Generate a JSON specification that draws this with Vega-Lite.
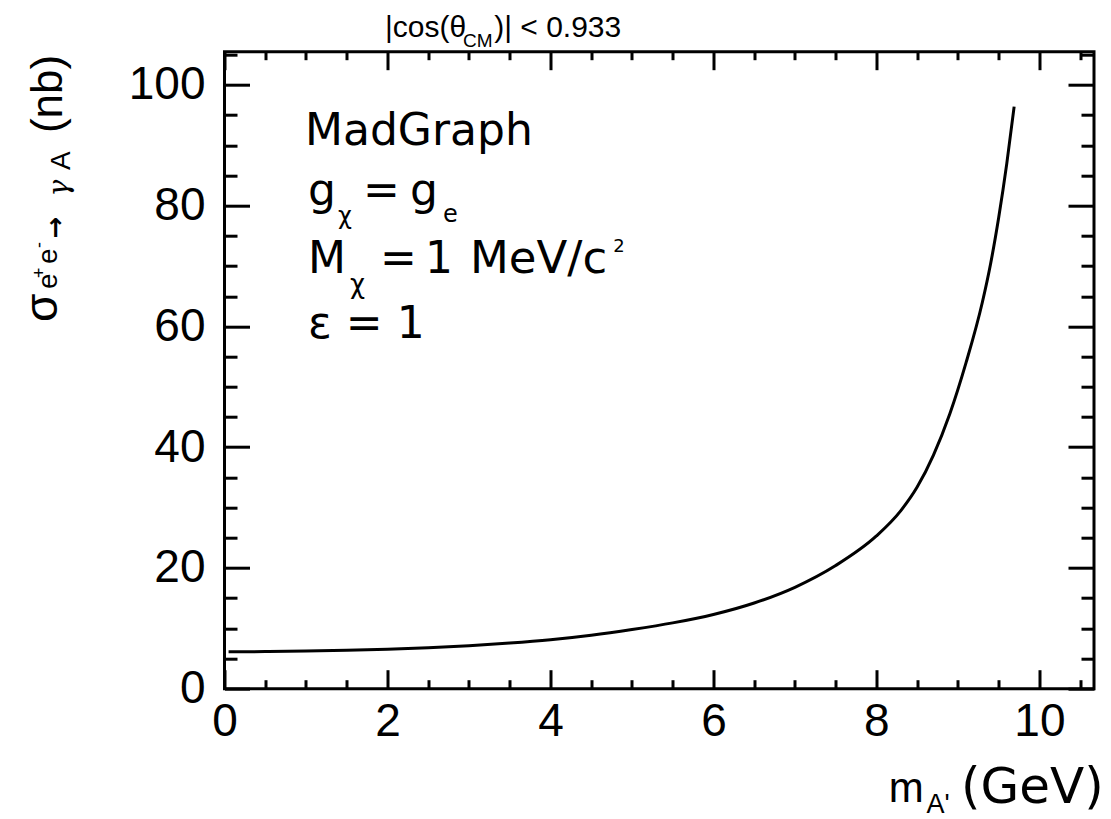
{
  "$schema": "https://vega.github.io/schema/vega-lite/v6.json",
  "width": 869.5,
  "height": 637,
  "autosize": {"type": "none"},
  "padding": {"left": 224.5, "top": 51.7, "right": 17, "bottom": 130.3},
  "background": "white",
  "config": {
    "view": {"stroke": "black", "strokeWidth": 3},
    "axis": {"grid": false, "domain": false, "tickColor": "black", "tickWidth": 3, "labelColor": "black", "labelFont": "Liberation Sans", "labelFontSize": 46}
  },
  "data": {"values": [
    {"m": 0.05, "sigma": 6.1}, {"m": 0.5, "sigma": 6.15}, {"m": 1.0, "sigma": 6.25}, {"m": 1.5, "sigma": 6.37},
    {"m": 2.0, "sigma": 6.55}, {"m": 2.5, "sigma": 6.8}, {"m": 3.0, "sigma": 7.12}, {"m": 3.5, "sigma": 7.55},
    {"m": 4.0, "sigma": 8.1}, {"m": 4.5, "sigma": 8.85}, {"m": 5.0, "sigma": 9.8}, {"m": 5.5, "sigma": 10.9},
    {"m": 6.0, "sigma": 12.3}, {"m": 6.5, "sigma": 14.2}, {"m": 7.0, "sigma": 16.8}, {"m": 7.5, "sigma": 20.4},
    {"m": 8.0, "sigma": 25.3}, {"m": 8.3, "sigma": 29.5}, {"m": 8.5, "sigma": 33.4}, {"m": 8.7, "sigma": 38.7},
    {"m": 8.9, "sigma": 45.5}, {"m": 9.1, "sigma": 54.0}, {"m": 9.3, "sigma": 64.0}, {"m": 9.4, "sigma": 70.3},
    {"m": 9.5, "sigma": 78.0}, {"m": 9.6, "sigma": 87.0}, {"m": 9.69, "sigma": 96.4}
  ]},
  "layer": [
    {
      "mark": {"type": "line", "color": "black", "strokeWidth": 3, "interpolate": "monotone"},
      "encoding": {
        "x": {"field": "m", "type": "quantitative", "scale": {"domain": [0, 10.67], "nice": false, "zero": false},
              "axis": {"orient": "bottom", "values": [0, 2, 4, 6, 8, 10], "tickSize": -19, "labelPadding": 30, "title": null, "labelFlush": false}},
        "y": {"field": "sigma", "type": "quantitative", "scale": {"domain": [0, 105.5], "nice": false, "zero": false},
              "axis": {"orient": "left", "values": [0, 20, 40, 60, 80, 100], "tickSize": -25, "labelPadding": 44.5, "title": null, "labelFlush": false}}
      }
    },
    {
      "mark": {"type": "line", "opacity": 0},
      "encoding": {
        "x": {"field": "m", "type": "quantitative",
              "axis": {"orient": "bottom", "values": [0.5, 1, 1.5, 2.5, 3, 3.5, 4.5, 5, 5.5, 6.5, 7, 7.5, 8.5, 9, 9.5, 10.5], "tickSize": -9, "labels": false, "title": null}},
        "y": {"field": "sigma", "type": "quantitative",
              "axis": {"orient": "left", "values": [5, 10, 15, 25, 30, 35, 45, 50, 55, 65, 70, 75, 85, 90, 95, 105], "tickSize": -12.5, "labels": false, "title": null}}
      }
    },
    {
      "mark": {"type": "line", "opacity": 0},
      "encoding": {
        "x": {"field": "m", "type": "quantitative",
              "axis": {"orient": "top", "values": [0, 2, 4, 6, 8, 10], "tickSize": -18, "labels": false, "title": null}},
        "y": {"field": "sigma", "type": "quantitative",
              "axis": {"orient": "right", "values": [0, 20, 40, 60, 80, 100], "tickSize": -26, "labels": false, "title": null}}
      }
    },
    {
      "mark": {"type": "line", "opacity": 0},
      "encoding": {
        "x": {"field": "m", "type": "quantitative",
              "axis": {"orient": "top", "values": [0.5, 1, 1.5, 2.5, 3, 3.5, 4.5, 5, 5.5, 6.5, 7, 7.5, 8.5, 9, 9.5, 10.5], "tickSize": -8, "labels": false, "title": null}},
        "y": {"field": "sigma", "type": "quantitative",
              "axis": {"orient": "right", "values": [5, 10, 15, 25, 30, 35, 45, 50, 55, 65, 70, 75, 85, 90, 95, 105], "tickSize": -13, "labels": false, "title": null}}
      }
    },
    {"data": {"values": [{}]}, "mark": {"type": "text", "text": "MadGraph", "font": "DejaVu Sans", "fontSize": 44, "align": "left", "baseline": "alphabetic", "color": "black"},
     "encoding": {"x": {"datum": 0.988, "type": "quantitative", "axis": null}, "y": {"datum": 90.05, "type": "quantitative", "axis": null}}},
    {"data": {"values": [{}]}, "mark": {"type": "text", "text": "g", "font": "DejaVu Sans", "fontSize": 44, "align": "left", "baseline": "alphabetic", "color": "black"},
     "encoding": {"x": {"datum": 1.025, "type": "quantitative", "axis": null}, "y": {"datum": 80.11, "type": "quantitative", "axis": null}}},
    {"data": {"values": [{}]}, "mark": {"type": "text", "text": "χ", "font": "DejaVu Sans", "fontSize": 24, "align": "left", "baseline": "alphabetic", "color": "black"},
     "encoding": {"x": {"datum": 1.393, "type": "quantitative", "axis": null}, "y": {"datum": 76.96, "type": "quantitative", "axis": null}}},
    {"data": {"values": [{}]}, "mark": {"type": "text", "text": "=", "font": "DejaVu Sans", "fontSize": 44, "align": "left", "baseline": "alphabetic", "color": "black"},
     "encoding": {"x": {"datum": 1.70, "type": "quantitative", "axis": null}, "y": {"datum": 80.11, "type": "quantitative", "axis": null}}},
    {"data": {"values": [{}]}, "mark": {"type": "text", "text": "g", "font": "DejaVu Sans", "fontSize": 44, "align": "left", "baseline": "alphabetic", "color": "black"},
     "encoding": {"x": {"datum": 2.276, "type": "quantitative", "axis": null}, "y": {"datum": 80.11, "type": "quantitative", "axis": null}}},
    {"data": {"values": [{}]}, "mark": {"type": "text", "text": "e", "font": "DejaVu Sans", "fontSize": 24, "align": "left", "baseline": "alphabetic", "color": "black"},
     "encoding": {"x": {"datum": 2.681, "type": "quantitative", "axis": null}, "y": {"datum": 77.34, "type": "quantitative", "axis": null}}},
    {"data": {"values": [{}]}, "mark": {"type": "text", "text": "M", "font": "DejaVu Sans", "fontSize": 44, "align": "left", "baseline": "alphabetic", "color": "black"},
     "encoding": {"x": {"datum": 1.025, "type": "quantitative", "axis": null}, "y": {"datum": 68.85, "type": "quantitative", "axis": null}}},
    {"data": {"values": [{}]}, "mark": {"type": "text", "text": "χ", "font": "DejaVu Sans", "fontSize": 26, "align": "left", "baseline": "alphabetic", "color": "black"},
     "encoding": {"x": {"datum": 1.54, "type": "quantitative", "axis": null}, "y": {"datum": 65.53, "type": "quantitative", "axis": null}}},
    {"data": {"values": [{}]}, "mark": {"type": "text", "text": "=", "font": "DejaVu Sans", "fontSize": 44, "align": "left", "baseline": "alphabetic", "color": "black"},
     "encoding": {"x": {"datum": 1.908, "type": "quantitative", "axis": null}, "y": {"datum": 68.85, "type": "quantitative", "axis": null}}},
    {"data": {"values": [{}]}, "mark": {"type": "text", "text": "1", "font": "DejaVu Sans", "fontSize": 44, "align": "left", "baseline": "alphabetic", "color": "black"},
     "encoding": {"x": {"datum": 2.46, "type": "quantitative", "axis": null}, "y": {"datum": 68.85, "type": "quantitative", "axis": null}}},
    {"data": {"values": [{}]}, "mark": {"type": "text", "text": "MeV/c", "font": "DejaVu Sans", "fontSize": 45, "align": "left", "baseline": "alphabetic", "color": "black"},
     "encoding": {"x": {"datum": 3.013, "type": "quantitative", "axis": null}, "y": {"datum": 68.85, "type": "quantitative", "axis": null}}},
    {"data": {"values": [{}]}, "mark": {"type": "text", "text": "2", "font": "DejaVu Sans", "fontSize": 18, "align": "left", "baseline": "alphabetic", "color": "black"},
     "encoding": {"x": {"datum": 4.77, "type": "quantitative", "axis": null}, "y": {"datum": 72.4, "type": "quantitative", "axis": null}}},
    {"data": {"values": [{}]}, "mark": {"type": "text", "text": "ε = 1", "font": "DejaVu Sans", "fontSize": 44, "align": "left", "baseline": "alphabetic", "color": "black"},
     "encoding": {"x": {"datum": 1.025, "type": "quantitative", "axis": null}, "y": {"datum": 58.08, "type": "quantitative", "axis": null}}},
    {"data": {"values": [{}]}, "mark": {"type": "text", "text": "|cos(θ", "font": "Liberation Sans", "fontSize": 30, "align": "left", "baseline": "alphabetic", "color": "black"},
     "encoding": {"x": {"datum": 1.969, "type": "quantitative", "axis": null}, "y": {"datum": 107.93, "type": "quantitative", "axis": null}}},
    {"data": {"values": [{}]}, "mark": {"type": "text", "text": "CM", "font": "Liberation Sans", "fontSize": 19, "align": "left", "baseline": "alphabetic", "color": "black"},
     "encoding": {"x": {"datum": 2.928, "type": "quantitative", "axis": null}, "y": {"datum": 106.27, "type": "quantitative", "axis": null}}},
    {"data": {"values": [{}]}, "mark": {"type": "text", "text": ")|", "font": "Liberation Sans", "fontSize": 30, "align": "left", "baseline": "alphabetic", "color": "black"},
     "encoding": {"x": {"datum": 3.31, "type": "quantitative", "axis": null}, "y": {"datum": 107.93, "type": "quantitative", "axis": null}}},
    {"data": {"values": [{}]}, "mark": {"type": "text", "text": "< 0.933", "font": "Liberation Sans", "fontSize": 30, "align": "left", "baseline": "alphabetic", "color": "black"},
     "encoding": {"x": {"datum": 3.63, "type": "quantitative", "axis": null}, "y": {"datum": 107.93, "type": "quantitative", "axis": null}}},
    {"data": {"values": [{}]}, "mark": {"type": "text", "text": "(GeV)", "font": "DejaVu Sans", "fontSize": 50, "align": "right", "baseline": "alphabetic", "color": "black"},
     "encoding": {"x": {"datum": 10.79, "type": "quantitative", "axis": null}, "y": {"datum": -18.9, "type": "quantitative", "axis": null}}},
    {"data": {"values": [{}]}, "mark": {"type": "text", "text": "A'", "font": "Liberation Sans", "fontSize": 27, "align": "right", "baseline": "alphabetic", "color": "black"},
     "encoding": {"x": {"datum": 8.9, "type": "quantitative", "axis": null}, "y": {"datum": -20.59, "type": "quantitative", "axis": null}}},
    {"data": {"values": [{}]}, "mark": {"type": "text", "text": "m", "font": "Liberation Sans", "fontSize": 42, "align": "right", "baseline": "alphabetic", "color": "black"},
     "encoding": {"x": {"datum": 8.58, "type": "quantitative", "axis": null}, "y": {"datum": -18.76, "type": "quantitative", "axis": null}}},
    {"data": {"values": [{}]}, "mark": {"type": "text", "text": "σ", "font": "Liberation Sans", "fontSize": 46, "angle": 270, "align": "left", "baseline": "alphabetic", "color": "black"},
     "encoding": {"x": {"datum": -2.055, "type": "quantitative", "axis": null}, "y": {"datum": 60.73, "type": "quantitative", "axis": null}}},
    {"data": {"values": [{}]}, "mark": {"type": "text", "text": "e", "font": "Liberation Sans", "fontSize": 28, "angle": 270, "align": "left", "baseline": "alphabetic", "color": "black"},
     "encoding": {"x": {"datum": -2.055, "type": "quantitative", "axis": null}, "y": {"datum": 66.18, "type": "quantitative", "axis": null}}},
    {"data": {"values": [{}]}, "mark": {"type": "text", "text": "+", "font": "Liberation Sans", "fontSize": 18, "angle": 270, "align": "left", "baseline": "alphabetic", "color": "black"},
     "encoding": {"x": {"datum": -2.2, "type": "quantitative", "axis": null}, "y": {"datum": 68.0, "type": "quantitative", "axis": null}}},
    {"data": {"values": [{}]}, "mark": {"type": "text", "text": "e", "font": "Liberation Sans", "fontSize": 28, "angle": 270, "align": "left", "baseline": "alphabetic", "color": "black"},
     "encoding": {"x": {"datum": -2.055, "type": "quantitative", "axis": null}, "y": {"datum": 70.33, "type": "quantitative", "axis": null}}},
    {"data": {"values": [{}]}, "mark": {"type": "text", "text": "-", "font": "Liberation Sans", "fontSize": 18, "angle": 270, "align": "left", "baseline": "alphabetic", "color": "black"},
     "encoding": {"x": {"datum": -2.2, "type": "quantitative", "axis": null}, "y": {"datum": 72.99, "type": "quantitative", "axis": null}}},
    {"data": {"values": [{}]}, "mark": {"type": "text", "text": "→", "font": "DejaVu Sans", "fontSize": 26, "fontWeight": "bold", "angle": 270, "align": "left", "baseline": "alphabetic", "color": "black"},
     "encoding": {"x": {"datum": -1.97, "type": "quantitative", "axis": null}, "y": {"datum": 74.6, "type": "quantitative", "axis": null}}},
    {"data": {"values": [{}]}, "mark": {"type": "text", "text": "γ", "font": "DejaVu Serif", "fontSize": 28, "fontStyle": "italic", "angle": 270, "align": "left", "baseline": "alphabetic", "color": "black"},
     "encoding": {"x": {"datum": -1.922, "type": "quantitative", "axis": null}, "y": {"datum": 81.5, "type": "quantitative", "axis": null}}},
    {"data": {"values": [{}]}, "mark": {"type": "text", "text": "A", "font": "Liberation Sans", "fontSize": 28, "angle": 270, "align": "left", "baseline": "alphabetic", "color": "black"},
     "encoding": {"x": {"datum": -1.896, "type": "quantitative", "axis": null}, "y": {"datum": 85.9, "type": "quantitative", "axis": null}}},
    {"data": {"values": [{}]}, "mark": {"type": "text", "text": "(nb)", "font": "Liberation Sans", "fontSize": 44, "angle": 270, "align": "left", "baseline": "alphabetic", "color": "black"},
     "encoding": {"x": {"datum": -1.994, "type": "quantitative", "axis": null}, "y": {"datum": 92.02, "type": "quantitative", "axis": null}}}
  ],
  "resolve": {"axis": {"x": "independent", "y": "independent"}}
}
